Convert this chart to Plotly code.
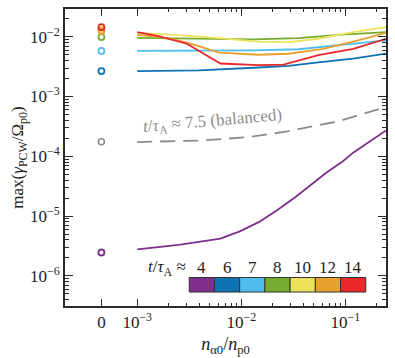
import plotly.graph_objects as go

# ---------------- data ----------------
T_LABELS = ["4", "6", "7", "8", "10", "12", "14"]
COLORS = ["#7E2F8E", "#0E72B5", "#4DBEEE", "#77AC30", "#EDE35A", "#E8A02E", "#E8282A"]
BAL_COLOR = "#8C8C8C"

# values at n_alpha0/n_p0 = 0 (open circles)
Y_ZERO = [2.45e-6, 2.67e-3, 5.8e-3, 9.9e-3, 1.36e-2, 1.26e-2, 1.45e-2]
Y_ZERO_BAL = 1.75e-4

X_T4 = [0.001, 0.0016, 0.0025, 0.0039, 0.0063, 0.0098, 0.0147, 0.0219, 0.033, 0.066, 0.0955, 0.119, 0.246]
Y_T4 = [2.76e-6, 3.0e-6, 3.3e-6, 3.7e-6, 4.2e-6, 5.6e-6, 7.9e-6, 1.24e-5, 2.06e-5, 5.35e-5, 8.35e-5, 1.15e-4, 2.7e-4]

X_T6 = [0.001, 0.0039, 0.0132, 0.0285, 0.055, 0.119, 0.246]
Y_T6 = [2.67e-3, 2.75e-3, 3.03e-3, 3.27e-3, 3.73e-3, 4.32e-3, 5.22e-3]

X_T7 = [0.001, 0.0039, 0.0132, 0.0355, 0.0855, 0.246]
Y_T7 = [5.8e-3, 5.8e-3, 5.94e-3, 6.18e-3, 7.2e-3, 8.7e-3]

X_T8 = [0.001, 0.0039, 0.0132, 0.0355, 0.0855, 0.246]
Y_T8 = [9.6e-3, 9.3e-3, 9.05e-3, 9.5e-3, 1.08e-2, 1.2e-2]

X_T10 = [0.001, 0.0023, 0.0061, 0.0147, 0.0285, 0.055, 0.119, 0.246]
Y_T10 = [1.165e-2, 1.08e-2, 9.5e-3, 8.3e-3, 8.16e-3, 9.27e-3, 1.2e-2, 1.45e-2]

X_T12 = [0.001, 0.0016, 0.0025, 0.0039, 0.0061, 0.0147, 0.0285, 0.0615, 0.133, 0.246]
Y_T12 = [1.08e-2, 1.0e-2, 8.7e-3, 7.0e-3, 5.43e-3, 5.0e-3, 5.2e-3, 6.3e-3, 8.7e-3, 1.16e-2]

X_T14 = [0.001, 0.0016, 0.003, 0.0063, 0.0147, 0.0255, 0.055, 0.119, 0.246]
Y_T14 = [1.2e-2, 1.03e-2, 7.65e-3, 3.57e-3, 3.36e-3, 3.43e-3, 4.92e-3, 6.3e-3, 9.27e-3]

X_BAL = [0.001, 0.0039, 0.0118, 0.0285, 0.0855, 0.246]
Y_BAL = [1.73e-4, 1.83e-4, 2.09e-4, 2.63e-4, 3.85e-4, 6.7e-4]

X_TICK_TEXT = ["0", "10<sup>−3</sup>", "10<sup>−2</sup>", "10<sup>−1</sup>"]
Y_TICK_TEXT = ["10<sup>−6</sup>", "10<sup>−5</sup>", "10<sup>−4</sup>", "10<sup>−3</sup>", "10<sup>−2</sup>"]

# ---------------- layout constants ----------------
ZERO_POS = 10 ** -3.344          # where the "0" column sits on the log axis
X_RANGE = [-3.694, -0.609]
Y_RANGE = [-6.506, -1.535]
FONT = "Liberation Serif, Times New Roman, serif"
AX = "#2b2b2b"
TXT = "#222"

SERIES_X = [X_T4, X_T6, X_T7, X_T8, X_T10, X_T12, X_T14]
SERIES_Y = [Y_T4, Y_T6, Y_T7, Y_T8, Y_T10, Y_T12, Y_T14]

fig = go.Figure()

# balanced case
fig.add_trace(go.Scatter(x=X_BAL, y=Y_BAL, mode="lines",
                         line=dict(color=BAL_COLOR, width=1.8, dash="15px,8px"),
                         showlegend=False, hoverinfo="skip"))
fig.add_trace(go.Scatter(x=[ZERO_POS], y=[Y_ZERO_BAL], mode="markers",
                         marker=dict(symbol="circle-open", size=6, color=BAL_COLOR, line=dict(width=1.6)),
                         showlegend=False))

for xs, ys, c in zip(SERIES_X, SERIES_Y, COLORS):
    fig.add_trace(go.Scatter(x=xs, y=ys, mode="lines", line=dict(color=c, width=1.8),
                             showlegend=False))
for y0, c in zip(Y_ZERO, COLORS):
    fig.add_trace(go.Scatter(x=[ZERO_POS], y=[y0], mode="markers",
                             marker=dict(symbol="circle-open", size=6, color=c, line=dict(width=1.8)),
                             showlegend=False))

minor_x = [m * 10 ** k for k in (-3, -2, -1) for m in range(2, 10)]
minor_y = [m * 10 ** k for k in range(-7, -1) for m in range(2, 10)]

fig.update_xaxes(type="log", range=X_RANGE,
                 tickmode="array", tickvals=[ZERO_POS, 1e-3, 1e-2, 1e-1], ticktext=X_TICK_TEXT,
                 ticks="inside", ticklen=7, tickwidth=1.3, tickcolor=AX,
                 minor=dict(tickmode="array", tickvals=minor_x, ticks="inside", ticklen=3.5,
                            tickwidth=1, tickcolor=AX, showgrid=False),
                 showline=True, linecolor=AX, linewidth=1.8, mirror="ticks",
                 showgrid=False, zeroline=False,
                 tickfont=dict(family=FONT, size=17, color=TXT),
                 title=dict(text="<i>n</i><sub>α0</sub>/<i>n</i><sub>p0</sub>",
                            font=dict(family=FONT, size=18, color=TXT), standoff=6))
fig.update_yaxes(type="log", range=Y_RANGE,
                 tickmode="array", tickvals=[1e-6, 1e-5, 1e-4, 1e-3, 1e-2], ticktext=Y_TICK_TEXT,
                 ticks="inside", ticklen=8, tickwidth=1.3, tickcolor=AX,
                 minor=dict(tickmode="array", tickvals=minor_y, ticks="inside", ticklen=4,
                            tickwidth=1, tickcolor=AX, showgrid=False),
                 showline=True, linecolor=AX, linewidth=1.8, mirror="ticks",
                 showgrid=False, zeroline=False,
                 tickfont=dict(family=FONT, size=17, color=TXT),
                 title=dict(text="max(<i>γ</i><sub>PCW</sub>/Ω<sub>p0</sub>)",
                            font=dict(family=FONT, size=17, color=TXT), standoff=2))

# balanced label
fig.add_annotation(x=-2.281, y=-3.431, xref="x", yref="y", showarrow=False,
                   xanchor="center", yanchor="middle",
                   text="<i>t</i>/<i>τ</i><sub>A</sub> ≈ 7.5 (balanced)", textangle=-5,
                   font=dict(family=FONT, size=17, color=BAL_COLOR))

# discrete colour key
box_x0, box_x1 = 0.387, 0.937
box_y0, box_y1 = 0.047, 0.096
w = (box_x1 - box_x0) / len(COLORS)
for i, (c, lab) in enumerate(zip(COLORS, T_LABELS)):
    fig.add_shape(type="rect", xref="paper", yref="paper",
                  x0=box_x0 + i * w, x1=box_x0 + (i + 1) * w, y0=box_y0, y1=box_y1,
                  fillcolor=c, line=dict(color="#333", width=1))
    fig.add_annotation(xref="paper", yref="paper", x=box_x0 + (i + 0.5) * w, y=0.128,
                       xanchor="center", yanchor="middle",
                       text=lab, showarrow=False, font=dict(family=FONT, size=17, color=TXT))
fig.add_annotation(xref="paper", yref="paper", x=box_x0 + 0.008, y=0.128, xanchor="right",
                   yanchor="middle",
                   text="<i>t</i>/<i>τ</i><sub>A</sub> ≈ ", showarrow=False,
                   font=dict(family=FONT, size=17, color=TXT))

fig.update_layout(width=395, height=358, margin=dict(l=65, r=7, t=7, b=52),
                  font=dict(family=FONT),
                  paper_bgcolor="white", plot_bgcolor="white", showlegend=False)

fig.write_html("out.html", config={"displayModeBar": False},
               post_script="document.body.style.margin='0';")
